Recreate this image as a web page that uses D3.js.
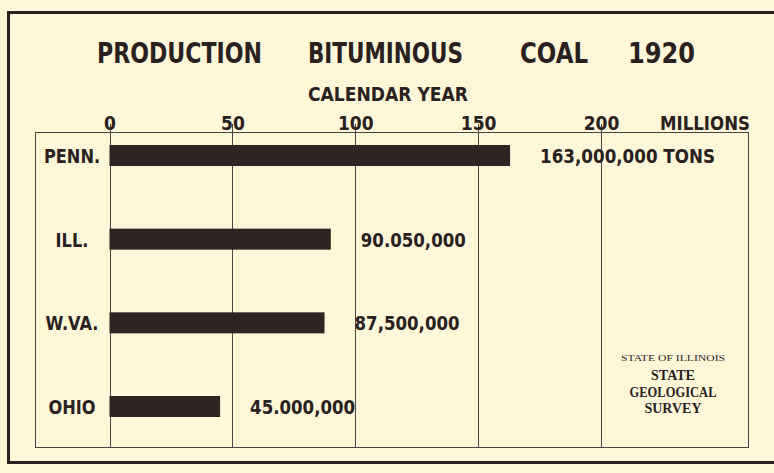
<!DOCTYPE html>
<html>
<head>
<meta charset="utf-8">
<script src="https://cdn.jsdelivr.net/npm/d3@7"></script>
<style>
  html, body { margin: 0; padding: 0; background: #fcf8d7; }
  svg { display: block; }
  .cond { font-family: "DejaVu Sans Condensed", "Liberation Sans Narrow", sans-serif; font-weight: bold; fill: #2a211f; }
  .serif { font-family: "Liberation Serif", "DejaVu Serif", serif; font-weight: bold; fill: #2a211f; }
</style>
</head>
<body>
<script>
// data, millions of tons, 1920
var states = ['PENN.', 'ILL.', 'W.VA.', 'OHIO']
var tons = [163, 90.05, 87.5, 45]
var tonLabels = ['163,000,000 TONS', '90.050,000', '87,500,000', '45.000,000']
var ticks = [0, 50, 100, 150, 200]
var titleWords = ['PRODUCTION', 'BITUMINOUS', 'COAL', '1920']

var width = 774, height = 473
var ink = '#2a211f'

var svg = d3.select('body').append('svg')
  .attr('width', width)
  .attr('height', height)

svg.append('rect')
  .attr('width', width).attr('height', height)
  .attr('fill', '#fcf8d7')

// outer frame (runs off the right edge)
svg.append('rect')
  .attr('x', 8.5).attr('y', 12.5)
  .attr('width', 790).attr('height', 450)
  .attr('fill', 'none')
  .attr('stroke', ink)
  .attr('stroke-width', 3)

var x = d3.scaleLinear().domain([0, 200]).range([109.5, 601])
var y = d3.scalePoint().domain(states).range([155.5, 406.5])
var barH = 21

// inner box
svg.append('rect')
  .attr('x', 35.5).attr('y', 132.5)
  .attr('width', 713).attr('height', 315)
  .attr('fill', 'none')
  .attr('stroke', '#4a4340')
  .attr('stroke-width', 1)

// grid lines
svg.selectAll('.grid').data(ticks).enter().append('line')
  .attr('class', 'grid')
  .attr('x1', function(d){ return Math.round(x(d)) + 0.5 })
  .attr('x2', function(d){ return Math.round(x(d)) + 0.5 })
  .attr('y1', 124)
  .attr('y2', 447)
  .attr('stroke', '#4a4340')
  .attr('stroke-width', 1)

// title
var titleX = [97, 308, 520, 628]
var titleW = [165, 155, 68, 67]
svg.selectAll('.title').data(titleWords).enter().append('text')
  .attr('class', 'cond title')
  .attr('x', function(d, i){ return titleX[i] })
  .attr('y', 63)
  .attr('font-size', 29)
  .attr('textLength', function(d, i){ return titleW[i] })
  .attr('lengthAdjust', 'spacingAndGlyphs')
  .text(function(d){ return d })

svg.append('text')
  .attr('class', 'cond')
  .attr('x', 308).attr('y', 101)
  .attr('font-size', 20)
  .attr('textLength', 160)
  .attr('lengthAdjust', 'spacingAndGlyphs')
  .text('CALENDAR YEAR')

// top axis labels
var axis = d3.axisTop(x).tickValues(ticks).tickSize(0).tickPadding(0)
var ag = svg.append('g')
  .attr('transform', 'translate(0,130)')
  .call(axis)
ag.select('.domain').remove()
ag.selectAll('text')
  .attr('class', 'cond')
  .attr('font-size', 19)
  .attr('dy', 0)
  .attr('fill', ink)

svg.append('text')
  .attr('class', 'cond')
  .attr('x', 750).attr('y', 130)
  .attr('text-anchor', 'end')
  .attr('font-size', 19)
  .attr('textLength', 90)
  .attr('lengthAdjust', 'spacingAndGlyphs')
  .text('MILLIONS')

// bars
svg.selectAll('.bar').data(tons).enter().append('rect')
  .attr('class', 'bar')
  .attr('x', x(0))
  .attr('y', function(d, i){ return y(states[i]) - barH / 2 })
  .attr('width', function(d){ return x(d) - x(0) })
  .attr('height', barH)
  .attr('fill', '#2e2523')

// state names
svg.selectAll('.state').data(states).enter().append('text')
  .attr('class', 'cond state')
  .attr('x', 72)
  .attr('y', function(d){ return y(d) + 7.5 })
  .attr('text-anchor', 'middle')
  .attr('font-size', 20)
  .attr('transform', 'scale(0.9,1)')
  .attr('x', 72 / 0.9)
  .text(function(d){ return d })

// value labels
svg.selectAll('.val').data(tons).enter().append('text')
  .attr('class', 'cond val')
  .attr('x', function(d){ return x(d) + 30 })
  .attr('y', function(d, i){ return y(states[i]) + 7.5 })
  .attr('font-size', 20)
  .attr('textLength', function(d, i){ return i == 0 ? 175 : 105 })
  .attr('lengthAdjust', 'spacingAndGlyphs')
  .text(function(d, i){ return tonLabels[i] })

// survey stamp
var stamp = svg.append('g').attr('class', 'serif').attr('text-anchor', 'middle')
stamp.append('text').attr('x', 673).attr('y', 361).attr('font-size', 8).attr('font-weight', 'normal')
  .attr('textLength', 104).attr('lengthAdjust', 'spacingAndGlyphs').text('STATE OF ILLINOIS')
stamp.append('text').attr('x', 673).attr('y', 380).attr('font-size', 14).text('STATE')
stamp.append('text').attr('x', 673).attr('y', 397).attr('font-size', 14)
  .attr('textLength', 87).attr('lengthAdjust', 'spacingAndGlyphs').text('GEOLOGICAL')
stamp.append('text').attr('x', 673).attr('y', 413).attr('font-size', 14).text('SURVEY')
</script>
</body>
</html>
